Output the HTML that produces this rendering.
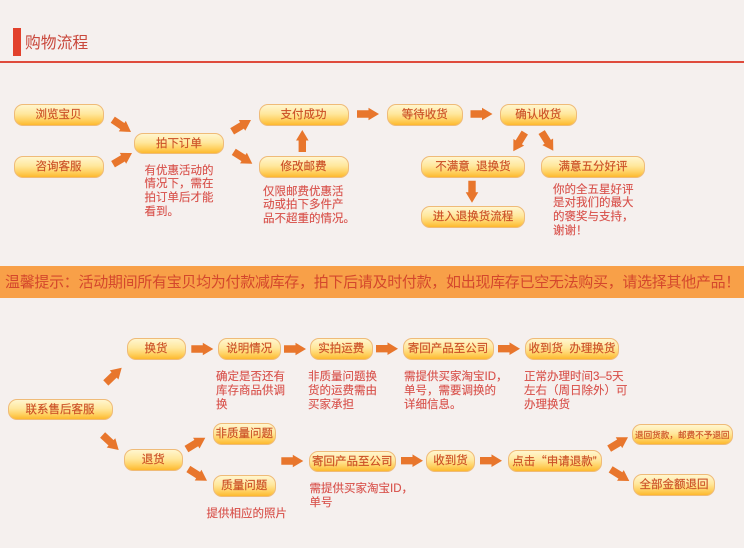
<!DOCTYPE html>
<html lang="zh"><head><meta charset="utf-8"><title>购物流程</title>
<style>
html,body{margin:0;padding:0}
body{width:744px;height:548px;overflow:hidden;background:#f5f0ee;position:relative;font-family:"Liberation Sans","Noto Sans CJK SC",sans-serif}
.b{position:absolute;box-sizing:border-box;height:21.5px;border:1px solid #efbb78;border-radius:9px;background:linear-gradient(#fff6cf 0%,#ffe79c 45%,#ffd161 75%,#fdb92e 100%);color:#cc5026;font-size:11.5px;line-height:21.5px;text-align:center;white-space:pre;-webkit-text-stroke:.15px #cc5026}
.t{position:absolute;color:#d8504a;font-size:11.5px;line-height:13.8px;white-space:pre;-webkit-text-stroke:.12px #d8504a}
.q{font-family:"Noto Sans CJK SC",sans-serif;display:inline-block;width:11.5px;text-align:right}
svg{position:absolute;left:0;top:0}
</style></head><body>
<div style="position:absolute;left:13px;top:28px;width:7.5px;height:28px;background:#e2412c"></div>
<div style="position:absolute;left:25px;top:33px;font-size:15.8px;line-height:22px;color:#c9483c">购物流程</div>
<div style="position:absolute;left:0;top:61px;width:744px;height:1.5px;background:#df4b3c"></div>

<div class="b" style="left:13.5px;top:104px;width:90px">浏览宝贝</div>
<div class="b" style="left:13.5px;top:156px;width:90px">咨询客服</div>
<div class="b" style="left:134px;top:132.5px;width:90px">拍下订单</div>
<div class="b" style="left:258.5px;top:104px;width:90px">支付成功</div>
<div class="b" style="left:258.5px;top:156px;width:90px">修改邮费</div>
<div class="b" style="left:386.5px;top:104px;width:76.5px">等待收货</div>
<div class="b" style="left:500px;top:104px;width:76.5px">确认收货</div>
<div class="b" style="left:421px;top:156px;width:104px">不满意  退换货</div>
<div class="b" style="left:541px;top:156px;width:104px">满意五分好评</div>
<div class="b" style="left:421px;top:206px;width:104px">进入退换货流程</div>

<div class="t" style="left:144.5px;top:164.5px">有优惠活动的
情况下，需在
拍订单后才能
看到。</div>
<div class="t" style="left:263px;top:185.5px">仅限邮费优惠活
动或拍下多件产
品不超重的情况。</div>
<div class="t" style="left:553px;top:183.5px">你的全五星好评
是对我们的最大
的褒奖与支持，
谢谢！</div>

<div style="position:absolute;left:0;top:266px;width:744px;height:32px;background:#f8a048"></div>
<div style="position:absolute;left:5px;top:273px;font-size:15px;letter-spacing:-.3px;line-height:20px;color:#d4472c;white-space:pre">温馨提示：活动期间所有宝贝均为付款减库存，拍下后请及时付款，如出现库存已空无法购买，请选择其他产品！</div>

<div class="b" style="left:126.5px;top:338px;width:59px">换货</div>
<div class="b" style="left:218px;top:338px;width:62.5px">说明情况</div>
<div class="b" style="left:310px;top:338px;width:62.5px">实拍运费</div>
<div class="b" style="left:402.5px;top:338px;width:91px">寄回产品至公司</div>
<div class="b" style="left:525px;top:338px;width:94px">收到货  办理换货</div>
<div class="b" style="left:7.5px;top:398.5px;width:105px">联系售后客服</div>
<div class="b" style="left:123.5px;top:449px;width:59.5px">退货</div>
<div class="b" style="left:212.5px;top:423px;width:63.5px">非质量问题</div>
<div class="b" style="left:212.5px;top:475px;width:63.5px">质量问题</div>
<div class="b" style="left:308.5px;top:450.5px;width:87.5px">寄回产品至公司</div>
<div class="b" style="left:426px;top:450px;width:49px">收到货</div>
<div class="b" style="left:508px;top:450px;width:94px;text-align:left;padding-left:3.3px">点击<span class="q">“</span>申请退款”</div>
<div class="b" style="left:631.5px;top:423.5px;width:101.5px;font-size:8.6px">退回货款，邮费不予退回</div>
<div class="b" style="left:633px;top:474px;width:82px">全部金额退回</div>

<div class="t" style="left:216px;top:371px">确定是否还有
库存商品供调
换</div>
<div class="t" style="left:308px;top:371px">非质量问题换
货的运费需由
买家承担</div>
<div class="t" style="left:404px;top:371px">需提供买家淘宝ID，
单号，需要调换的
详细信息。</div>
<div class="t" style="left:524px;top:371px">正常办理时间3–5天
左右（周日除外）可
办理换货</div>
<div class="t" style="left:309.5px;top:483px">需提供买家淘宝ID，
单号</div>
<div class="t" style="left:206.5px;top:508px">提供相应的照片</div>

<svg width="744" height="548" viewBox="0 0 744 548">
<defs><polygon id="a" points="-22,-3.7 -10.5,-3.7 -10.5,-6.3 0,0 -10.5,6.3 -10.5,3.7 -22,3.7" fill="#e8762c"/></defs>
<use href="#a" transform="translate(131,132) rotate(34)"/>
<use href="#a" transform="translate(132,153) rotate(-30.5)"/>
<use href="#a" transform="translate(251,120) rotate(-31)"/>
<use href="#a" transform="translate(252.3,163.7) rotate(32.6)"/>
<use href="#a" transform="translate(302.3,130) rotate(-90)"/>
<use href="#a" transform="translate(379,114)"/>
<use href="#a" transform="translate(492.5,114)"/>
<use href="#a" transform="translate(513.3,151.3) rotate(121.5)"/>
<use href="#a" transform="translate(553.3,150.7) rotate(58)"/>
<use href="#a" transform="translate(472,202.7) rotate(90)"/>
<use href="#a" transform="translate(121.7,367.7) rotate(-43.7)"/>
<use href="#a" transform="translate(213.3,349)"/>
<use href="#a" transform="translate(306,349)"/>
<use href="#a" transform="translate(398,348.7)"/>
<use href="#a" transform="translate(520,348.7)"/>
<use href="#a" transform="translate(118.7,450) rotate(43)"/>
<use href="#a" transform="translate(205.3,437.7) rotate(-31)"/>
<use href="#a" transform="translate(207,480.7) rotate(32)"/>
<use href="#a" transform="translate(303.3,461)"/>
<use href="#a" transform="translate(423,460.7)"/>
<use href="#a" transform="translate(502,460.7)"/>
<use href="#a" transform="translate(628,437.3) rotate(-31)"/>
<use href="#a" transform="translate(629.3,481) rotate(32)"/>
</svg>
</body></html>
